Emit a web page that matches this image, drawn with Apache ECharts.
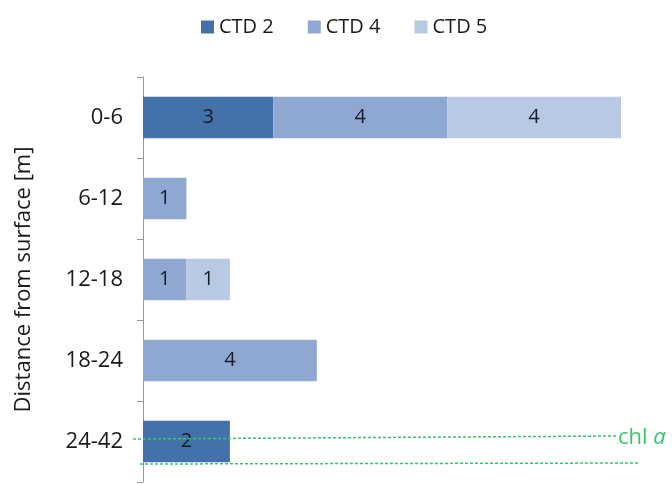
<!DOCTYPE html>
<html><head><meta charset="utf-8">
<script src="https://cdn.jsdelivr.net/npm/echarts@6/dist/echarts.min.js"></script>
<style>html,body{margin:0;padding:0;background:#fff}#c{width:672px;height:484px}</style>
</head><body><div id="c"></div>
<script>
var categories = ['0-6', '6-12', '12-18', '18-24', '24-42'];
var seriesNames = ['CTD 2', 'CTD 4', 'CTD 5'];
var ctd2 = [3, null, null, null, 2];
var ctd4 = [4, 1, 1, 4, null];
var ctd5 = [4, null, 1, null, null];
var colors = ['#4571ab', '#8fa8d2', '#b9c8e3'];
var FONT = 'Open Sans';

var chart = echarts.init(document.getElementById('c'));
function mk(name, data, color) {
  return {
    name: name, type: 'bar', stack: 's', data: data,
    barCategoryGap: '49%',
    itemStyle: { color: color },
    label: { show: true, position: 'inside', color: '#141b2a', fontSize: 20, fontFamily: FONT,
      formatter: function (p) { return p.value == null ? '' : p.value; } }
  };
}
chart.setOption({
  animation: false,
  textStyle: { fontFamily: FONT },
  color: colors,
  legend: {
    top: 12, left: 196, itemWidth: 13, itemHeight: 13, itemGap: 34, icon: 'rect',
    textStyle: { fontSize: 20, color: '#1a1a1a', fontFamily: FONT },
    data: seriesNames
  },
  grid: { left: 143, right: 51, top: 77, bottom: 2, containLabel: false },
  xAxis: { type: 'value', min: 0, max: 11, show: false },
  yAxis: {
    type: 'category', data: categories, inverse: true,
    name: 'Distance from surface [m]', nameLocation: 'middle', nameGap: 108,
    nameTextStyle: { fontSize: 22, color: '#1a1a1a', fontFamily: FONT },
    axisLine: { lineStyle: { color: '#999', width: 1 } },
    axisTick: { show: true, length: 6, lineStyle: { color: '#999' } },
    axisLabel: { fontSize: 22, color: '#1a1a1a', margin: 20, fontFamily: FONT }
  },
  series: [mk(seriesNames[0], ctd2, colors[0]), mk(seriesNames[1], ctd4, colors[1]), mk(seriesNames[2], ctd5, colors[2])],
  graphic: [
    { type: 'line', shape: { x1: 133, y1: 439, x2: 617, y2: 436 },
      style: { stroke: '#3cc36e', lineWidth: 1.5, lineDash: [3, 2] }, z: 100 },
    { type: 'line', shape: { x1: 140, y1: 464, x2: 638, y2: 463 },
      style: { stroke: '#3cc36e', lineWidth: 1.5, lineDash: [3, 2] }, z: 100 },
    { type: 'text', left: 618, top: 427, z: 100,
      style: { text: '{n|chl }{i|a}', rich: {
        n: { fontSize: 22, fill: '#3cc36e', fontFamily: FONT },
        i: { fontSize: 22, fill: '#3cc36e', fontStyle: 'italic', fontFamily: FONT } } } }
  ]
});
</script></body></html>
